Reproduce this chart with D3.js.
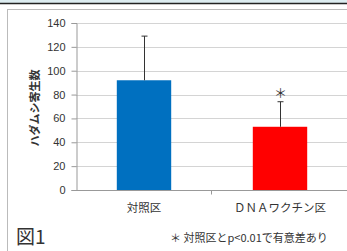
<!DOCTYPE html>
<html>
<head>
<meta charset="utf-8">
<script src="https://d3js.org/d3.v7.min.js"></script>
<style>
  body { margin: 0; background: #fff; }
  text { font-family: "Noto Sans CJK JP", sans-serif; fill: #333; }
</style>
</head>
<body>
<script>
var categories = ["対照区", "ＤＮＡワクチン区"];
var means = [92, 53];
var errors = [37, 21];
var colors = ["#0070C0", "#FF0000"];
var significant = [false, true];
var yTicks = [0, 20, 40, 60, 80, 100, 120, 140];

var W = 347, H = 251;
var svg = d3.select("body").append("svg").attr("width", W).attr("height", H);

// frame bits
svg.append("rect").attr("x", 0).attr("y", 0).attr("width", W).attr("height", 3).attr("fill", "#dcecf0");
svg.append("line").attr("x1", 0).attr("x2", W).attr("y1", 3.5).attr("y2", 3.5).attr("stroke", "#222").attr("stroke-width", 1.5);
svg.append("line").attr("x1", 7).attr("x2", W).attr("y1", 9.5).attr("y2", 9.5).attr("stroke", "#bbb");
svg.append("line").attr("x1", 7.5).attr("x2", 7.5).attr("y1", 9.5).attr("y2", H).attr("stroke", "#bbb");

var x = d3.scaleBand().domain(categories).range([76, 348]).paddingInner(0.6).paddingOuter(0.3);
var y = d3.scaleLinear().domain([0, 140]).range([190, 23]);

// gridlines
svg.append("g").selectAll("line").data(yTicks.slice(1)).enter().append("line")
    .attr("x1", 76).attr("x2", W)
    .attr("y1", function(d) { return Math.round(y(d)) + 0.5; })
    .attr("y2", function(d) { return Math.round(y(d)) + 0.5; })
    .attr("stroke", "#d4d4d4").attr("stroke-width", 1.2);

// y axis
var yAxis = svg.append("g").attr("transform", "translate(76.5,0)")
    .call(d3.axisLeft(y).tickValues(yTicks).tickSize(5).tickPadding(6));
yAxis.select(".domain").attr("stroke", "#999");
yAxis.selectAll(".tick line").attr("stroke", "#999");
yAxis.selectAll("text").attr("font-size", 11).style("font-family", "Arial, sans-serif").attr("fill", "#333");

// x axis
var xAxis = svg.append("g").attr("transform", "translate(0," + (Math.round(y(0)) + 0.5) + ")");
xAxis.append("line").attr("x1", 76).attr("x2", W).attr("stroke", "#999");
xAxis.append("line").attr("x1", 211.5).attr("x2", 211.5).attr("y1", 0).attr("y2", 4).attr("stroke", "#999");
xAxis.selectAll("text").data(categories).enter().append("text")
    .attr("x", function(d) { return x(d) + x.bandwidth() / 2; })
    .attr("y", 21)
    .attr("text-anchor", "middle")
    .attr("font-size", 11.5)
    .text(function(d) { return d; });

// bars
svg.append("g").selectAll("rect").data(categories).enter().append("rect")
    .attr("x", function(d) { return x(d); })
    .attr("width", x.bandwidth())
    .attr("y", function(d, i) { return y(means[i]); })
    .attr("height", function(d, i) { return y(0) - y(means[i]); })
    .attr("fill", function(d, i) { return colors[i]; });

// error bars (upper only)
var eb = svg.append("g").attr("stroke", "#333").attr("stroke-width", 1);
categories.forEach(function(c, i) {
    var cx = Math.round(x(c) + x.bandwidth() / 2) + 0.5;
    eb.append("line").attr("x1", cx).attr("x2", cx)
        .attr("y1", y(means[i])).attr("y2", y(means[i] + errors[i]));
    eb.append("line").attr("x1", cx - 3).attr("x2", cx + 3)
        .attr("y1", y(means[i] + errors[i])).attr("y2", y(means[i] + errors[i]));
    if (significant[i]) {
        svg.append("text").attr("x", cx).attr("y", y(means[i] + errors[i]) - 4)
            .attr("text-anchor", "middle").attr("font-size", 13).attr("fill", "#666")
            .text("＊");
    }
});

// y label
svg.append("text")
    .attr("transform", "translate(39,108) rotate(-90)")
    .attr("text-anchor", "middle")
    .attr("font-size", 11)
    .attr("font-weight", "bold")
    .text("ハダムシ寄生数");

// figure label & note
svg.append("text").attr("x", 16).attr("y", 244).attr("font-size", 19).attr("fill", "#222").text("図1");
svg.append("text").attr("x", 170).attr("y", 242).attr("font-size", 11).attr("fill", "#444")
    .text("＊  対照区とp<0.01で有意差あり");
</script>
</body>
</html>
